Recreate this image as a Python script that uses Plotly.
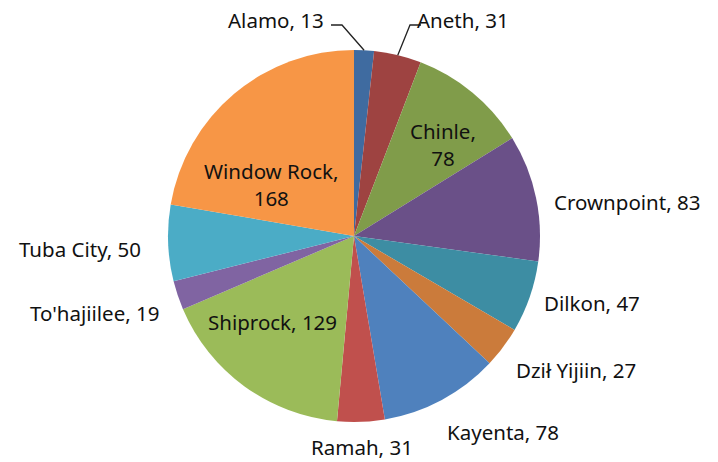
import math
import plotly.graph_objects as go

# ---- data ----
chapters = ["Alamo", "Aneth", "Chinle", "Crownpoint", "Dilkon", "Dził Yijiin",
            "Kayenta", "Ramah", "Shiprock", "To'hajiilee", "Tuba City", "Window Rock"]
counts = [13, 31, 78, 83, 47, 27, 78, 31, 129, 19, 50, 168]
slice_colors = ["#3F6BA0", "#9E4341", "#809C4A", "#6A5088", "#3D8DA3", "#CB7B3B",
                "#4F81BD", "#C0504D", "#9BBB59", "#8064A2", "#4BACC6", "#F79646"]

# ---- layout settings (pixels) ----
W, H = 718, 462
cx, cy, r = 354, 236, 186

def px(x):
    return x / W

def py(y):
    return 1 - y / H

fig = go.Figure(go.Pie(
    labels=chapters, values=counts, sort=False, direction="clockwise", rotation=0,
    marker=dict(colors=slice_colors, line=dict(width=0)),
    textinfo="none", hoverinfo="label+value", showlegend=False,
    domain=dict(x=[px(cx - r), px(cx + r)], y=[py(cy + r), py(cy - r)]),
))

# label text centers (pixel positions) and line breaks
label_pos = {
    "Alamo": (276, 20, False),
    "Aneth": (463, 20, False),
    "Chinle": (443, 144, True),
    "Crownpoint": (627, 202, False),
    "Dilkon": (592, 303, False),
    "Dził Yijiin": (576, 370, False),
    "Kayenta": (503, 432, False),
    "Ramah": (362, 447, False),
    "Shiprock": (272, 322, False),
    "To'hajiilee": (95, 313, False),
    "Tuba City": (80, 249, False),
    "Window Rock": (271, 184, True),
}

annotations = []
for name, val in zip(chapters, counts):
    x, y, brk = label_pos[name]
    sep = ",<br>" if brk else ", "
    annotations.append(dict(
        x=px(x), y=py(y), xref="paper", yref="paper", showarrow=False,
        text=f"{name}{sep}{val}", xanchor="center", yanchor="middle",
        font=dict(family="Noto Sans", size=20.5, color="#111111"),
    ))

# leader lines for the two small top slices
total = sum(counts)
cum = 0
mid = {}
for name, val in zip(chapters, counts):
    a = (cum + val / 2) / total * 2 * math.pi
    mid[name] = (cx + r * math.sin(a), cy - r * math.cos(a))
    cum += val

shapes = []
elbows = {"Alamo": [(331, 25), (342, 25)], "Aneth": [(421, 25), (410, 25)]}
for name, pts in elbows.items():
    ex, ey = mid[name]
    path = f"M {px(pts[0][0])} {py(pts[0][1])} L {px(pts[1][0])} {py(pts[1][1])} L {px(ex)} {py(ey)}"
    shapes.append(dict(type="path", xref="paper", yref="paper", path=path,
                       line=dict(color="#222222", width=1.3)))

fig.update_layout(
    width=W, height=H, autosize=False,
    margin=dict(l=0, r=0, t=0, b=0),
    paper_bgcolor="white", plot_bgcolor="white",
    annotations=annotations, shapes=shapes,
)

fig.write_html("out.html", config={"displayModeBar": False},
               post_script="document.body.style.margin='0';")
